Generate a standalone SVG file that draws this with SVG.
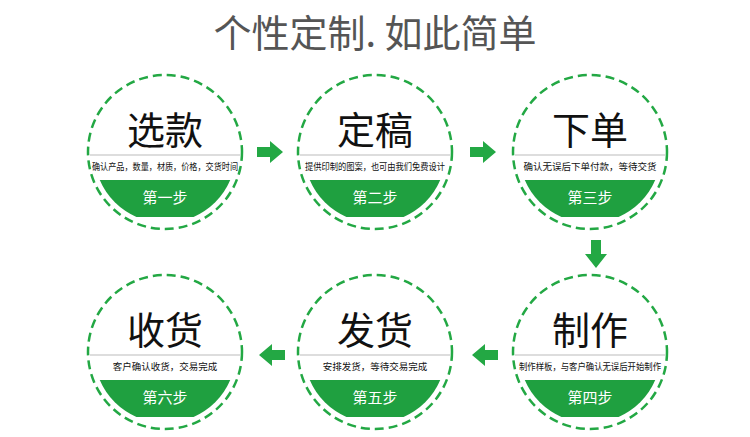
<svg xmlns="http://www.w3.org/2000/svg" width="750" height="437" viewBox="0 0 750 437">
<style>
.ring{fill:#fff;stroke:#23a844;stroke-width:2.5;stroke-dasharray:9 5}
.sep{stroke:#bbb;stroke-width:1}
.big{font-family:"Noto Sans CJK SC",sans-serif;font-size:38px;fill:#111;text-anchor:middle}
.sub{font-family:"Noto Sans CJK SC",sans-serif;font-size:9.5px;fill:#111;text-anchor:middle}
.step{font-family:"Noto Sans CJK SC",sans-serif;font-size:15px;fill:#fff;text-anchor:middle}
.seg{fill:#1fa040}
.arr{fill:#23a844}
</style>
<defs>
<clipPath id="c"><rect x="-80" y="28" width="160" height="37"/></clipPath>
<g id="node">
<circle class="ring" r="77"/>
<line class="sep" x1="-75" y1="3" x2="75" y2="3"/>
<circle class="seg" r="71" clip-path="url(#c)"/>
</g>
</defs>
<rect width="750" height="437" fill="#fff"/>
<text x="375" y="47" font-family="Noto Sans CJK SC,sans-serif" font-size="38" fill="#555" text-anchor="middle">个性定制. 如此简单</text>
<g id="n1" transform="translate(165,152)"><use href="#node"/><text class="big" y="-8">选款</text><text class="sub" y="18" textLength="146" lengthAdjust="spacingAndGlyphs">确认产品，数量，材质，价格，交货时间</text><text class="step" y="51">第一步</text></g>
<g id="n2" transform="translate(375,152)"><use href="#node"/><text class="big" y="-8">定稿</text><text class="sub" y="18" textLength="140" lengthAdjust="spacingAndGlyphs">提供印制的图案，也可由我们免费设计</text><text class="step" y="51">第二步</text></g>
<g id="n3" transform="translate(590,152)"><use href="#node"/><text class="big" y="-8">下单</text><text class="sub" y="18">确认无误后下单付款，等待交货</text><text class="step" y="51">第三步</text></g>
<g id="n4" transform="translate(590,352)"><use href="#node"/><text class="big" y="-8">制作</text><text class="sub" y="18" textLength="142" lengthAdjust="spacingAndGlyphs">制作样板，与客户确认无误后开始制作</text><text class="step" y="51">第四步</text></g>
<g id="n5" transform="translate(375,352)"><use href="#node"/><text class="big" y="-8">发货</text><text class="sub" y="18">安排发货，等待交易完成</text><text class="step" y="51">第五步</text></g>
<g id="n6" transform="translate(165,352)"><use href="#node"/><text class="big" y="-8">收货</text><text class="sub" y="18">客户确认收货，交易完成</text><text class="step" y="51">第六步</text></g>
<g id="connectors">
<polygon class="arr" points="257,147 270,147 270,141 283,152 270,163 270,157 257,157"/>
<polygon class="arr" points="470,147 483,147 483,141 496,152 483,163 483,157 470,157"/>
<polygon class="arr" points="591,240 601,240 601,254 607,254 596,268 585,254 591,254"/>
<polygon class="arr" points="498,350 485,350 485,344 472,355 485,366 485,360 498,360"/>
<polygon class="arr" points="285,350 272,350 272,344 259,355 272,366 272,360 285,360"/>
</g>
</svg>
